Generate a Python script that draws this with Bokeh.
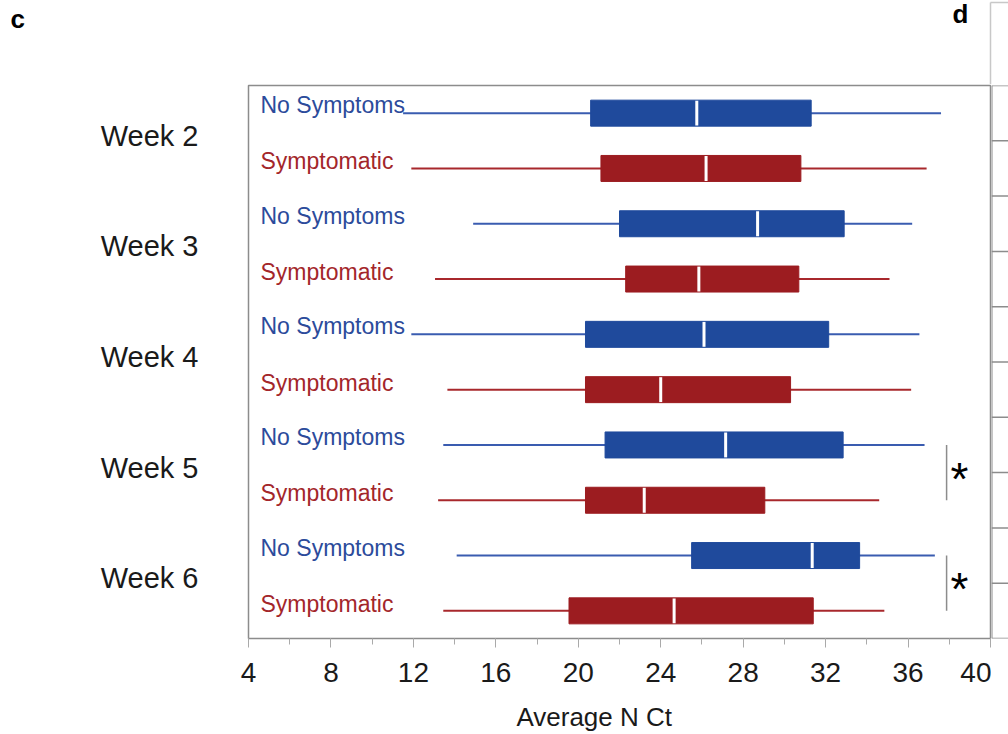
from bokeh.plotting import figure
from bokeh.models import Range1d, FixedTicker, CustomJSTickFormatter
from bokeh.layouts import column, row
from bokeh.core.properties import value
from bokeh.embed import file_html
from bokeh.resources import INLINE

weeks = ["Week 2", "Week 3", "Week 4", "Week 5", "Week 6"]
groups = ["No Symptoms", "Symptomatic"]

ns_wlo = [11.5, 14.9, 11.9, 13.45, 14.1]
ns_q1 = [20.6, 22.0, 20.35, 21.3, 25.5]
ns_med = [25.75, 28.7, 26.1, 27.15, 31.35]
ns_q3 = [31.3, 32.9, 32.15, 32.85, 33.65]
ns_whi = [37.6, 36.2, 36.55, 36.8, 37.3]

sy_wlo = [11.9, 13.05, 13.65, 13.2, 13.45]
sy_q1 = [21.1, 22.3, 20.35, 20.35, 19.55]
sy_med = [26.2, 25.85, 24.0, 23.2, 24.65]
sy_q3 = [30.8, 30.7, 30.3, 29.05, 31.4]
sy_whi = [36.9, 35.1, 36.15, 34.6, 34.85]

sig_weeks = ["Week 5", "Week 6"]
x_ticks = [4, 8, 12, 16, 20, 24, 28, 32, 36, 40]
panel_letters = ["c", "d"]

FONT = "Liberation Sans"
BLUE_BOX = "#1f4a9c"
BLUE_LINE = "#3a5cb0"
BLUE_TXT = "#2c4b9b"
RED_BOX = "#9c1c20"
RED_LINE = "#a8282c"
RED_TXT = "#a3262a"
GRAY = "#8c8c8c"
LIGHT = "#c8c8c8"

n = len(weeks)

# ---------- top strip with panel letters ----------
top = figure(width=1008, height=84, output_backend="svg", toolbar_location=None,
             x_range=Range1d(0, 1008), y_range=Range1d(84, 0),
             min_border=0, x_axis_location=None, y_axis_location=None)
top.grid.visible = False
top.outline_line_color = None
top.border_fill_color = "white"
top.text(x=[10, 952], y=[18, 13], text=panel_letters, text_font=value(FONT),
         text_font_style="bold", text_font_size="26px", text_color="black",
         text_baseline="middle", text_align="left")
# top of neighbouring panel d
top.segment(x0=[990, 990], x1=[990, 1008], y0=[84, 2], y1=[2, 2],
            line_color=LIGHT, line_width=1.5)

# ---------- main panel ----------
p = figure(width=991, height=650, output_backend="svg", toolbar_location=None,
           x_range=Range1d(4, 40), y_range=Range1d(10, 0),
           min_border_left=248, min_border_right=1, min_border_top=1,
           min_border_bottom=94)
p.grid.visible = False
p.outline_line_color = GRAY
p.outline_line_width = 1.5
p.background_fill_color = "white"
p.border_fill_color = "white"

ns_y = [2 * i + 0.5 for i in range(n)]
sy_y = [2 * i + 1.5 for i in range(n)]
h = 0.47

for ys, wlo, q1, med, q3, whi, lc, bc in [
    (ns_y, ns_wlo, ns_q1, ns_med, ns_q3, ns_whi, BLUE_LINE, BLUE_BOX),
    (sy_y, sy_wlo, sy_q1, sy_med, sy_q3, sy_whi, RED_LINE, RED_BOX),
]:
    p.segment(x0=wlo, x1=whi, y0=ys, y1=ys, line_color=lc, line_width=2)
    p.hbar(y=ys, left=q1, right=q3, height=h, fill_color=bc, line_color=bc, line_width=1)
    p.segment(x0=med, x1=med, y0=[y - h / 2 + 0.01 for y in ys], y1=[y + h / 2 - 0.01 for y in ys],
              line_color="white", line_width=3)

p.text(x=[4] * n, y=ns_y, text=[groups[0]] * n, x_offset=12, y_offset=-8,
       text_font=value(FONT), text_font_size="23px", text_color=BLUE_TXT,
       text_baseline="alphabetic", text_align="left")
p.text(x=[4] * n, y=sy_y, text=[groups[1]] * n, x_offset=12, y_offset=-7,
       text_font=value(FONT), text_font_size="23px", text_color=RED_TXT,
       text_baseline="alphabetic", text_align="left")

# significance brackets
sig_idx = [weeks.index(w) for w in sig_weeks]
bx = 37.87
p.segment(x0=[bx] * len(sig_idx), x1=[bx] * len(sig_idx),
          y0=[ns_y[i] for i in sig_idx], y1=[sy_y[i] for i in sig_idx],
          line_color=GRAY, line_width=1.5)
p.text(x=[bx] * len(sig_idx), y=[(ns_y[i] + sy_y[i]) / 2 for i in sig_idx],
       text=["*"] * len(sig_idx), x_offset=4, y_offset=6, text_font=value(FONT),
       text_font_size="46px", text_color="black", text_baseline="middle", text_align="left")

# x axis
p.xaxis.ticker = FixedTicker(ticks=x_ticks, minor_ticks=list(range(4, 41, 2)))
p.xaxis.major_label_text_font = FONT
p.xaxis.major_label_text_font_size = "28px"
p.xaxis.major_label_text_color = "#1a1a1a"
p.xaxis.axis_line_color = None
p.xaxis.major_tick_line_color = "#aaaaaa"
p.xaxis.minor_tick_line_color = "#aaaaaa"
p.xaxis.major_tick_out = 9
p.xaxis.major_tick_in = 0
p.xaxis.minor_tick_out = 6
p.xaxis.minor_tick_in = 0
p.xaxis.major_label_standoff = 15
p.xaxis.axis_label = "Average N Ct" + "\u00a0" * 7
p.xaxis.axis_label_text_font = FONT
p.xaxis.axis_label_text_font_size = "26px"
p.xaxis.axis_label_text_font_style = "normal"
p.xaxis.axis_label_text_color = "#1a1a1a"
p.xaxis.axis_label_standoff = 17

# y axis with week labels (sitting slightly above the middle of each pair)
p.yaxis.ticker = FixedTicker(ticks=[2 * i + 0.91 for i in range(n)])
p.yaxis.formatter = CustomJSTickFormatter(args=dict(labels=weeks),
                                          code="return labels[Math.round((tick - 1) / 2)] || '';")
p.yaxis.major_label_text_font = FONT
p.yaxis.major_label_text_font_size = "29px"
p.yaxis.major_label_text_color = "#1a1a1a"
p.yaxis.axis_line_color = None
p.yaxis.major_tick_line_color = None
p.yaxis.minor_tick_line_color = None
p.yaxis.major_label_standoff = 44

# ---------- sliver of neighbouring panel d ----------
side = figure(width=17, height=650, output_backend="svg", toolbar_location=None,
              x_range=Range1d(0, 1), y_range=Range1d(10, 0),
              min_border_left=0, min_border_right=0, min_border_top=1,
              min_border_bottom=94, x_axis_location=None, y_axis_location=None)
side.grid.visible = False
side.outline_line_color = None
side.border_fill_color = "white"
sep = list(range(0, 2 * n + 1))
side.segment(x0=[0] * len(sep), x1=[1] * len(sep), y0=sep, y1=sep,
             line_color=GRAY, line_width=1.5)
side.segment(x0=[0], x1=[0], y0=[0], y1=[2 * n], line_color=GRAY, line_width=2)

layout = column(top, row(p, side, spacing=0), spacing=0)
open("out.html", "w").write(file_html(layout, INLINE))
